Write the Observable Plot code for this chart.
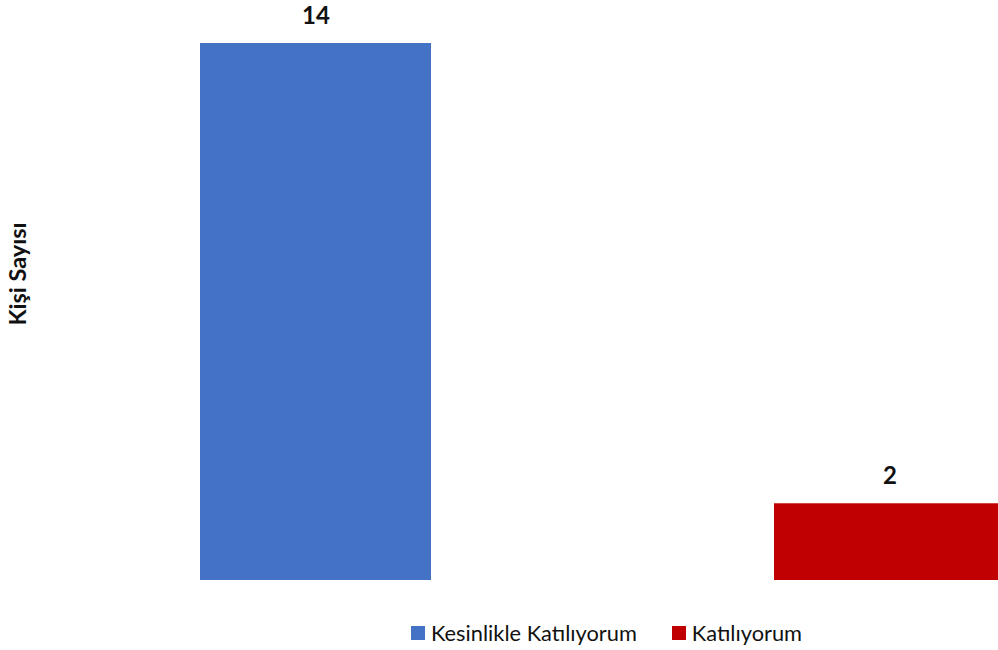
<!DOCTYPE html>
<html>
<head>
<meta charset="utf-8">
<script src="https://cdn.jsdelivr.net/npm/d3@7"></script>
<script src="https://cdn.jsdelivr.net/npm/@observablehq/plot@0.6"></script>
<style>
  html, body { margin: 0; padding: 0; background: #fff; overflow: hidden; width: 998px; height: 650px; }
  #wrap { position: relative; width: 998px; height: 650px; font-family: Lato, "Open Sans", sans-serif; }
  #chart svg { overflow: hidden; }
  #legend { position: absolute; left: 411px; top: 619px; display: flex; align-items: center; font-size: 21.8px; color: #111; }
  .item { display: flex; align-items: center; margin-right: 35px; }
  .sw { width: 14px; height: 14px; margin-right: 6px; }
</style>
</head>
<body>
<div id="wrap">
  <div id="chart"></div>
  <div id="legend"></div>
</div>
<script>
const categories = ["Kesinlikle Katılıyorum", "Katılıyorum"];
const values = [14, 2];
const colors = ["#4472C4", "#C00000"];
const yLabel = "Kişi Sayısı";

const data = categories.map((c, i) => ({category: c, value: values[i]}));

const plot = Plot.plot({
  width: 998,
  height: 600,
  marginTop: 43,
  marginBottom: 20,
  marginLeft: 0,
  marginRight: 0,
  style: {fontFamily: "Lato, 'Open Sans', sans-serif", background: "white"},
  x: {domain: categories, range: [200, 1005.5], paddingInner: 0.598, paddingOuter: 0, axis: null},
  y: {domain: [0, 14], axis: null},
  color: {domain: categories, range: colors},
  marks: [
    Plot.barY(data, {x: "category", y: "value", fill: "category"}),
    Plot.text(data, {x: "category", y: "value", text: d => String(d.value), dy: -27, lineAnchor: "middle", fontSize: 24, fontWeight: "bold", fill: "#111"}),
    Plot.text([yLabel], {frameAnchor: "left", text: d => d, rotate: -90, dx: 18, dy: -38, fontSize: 23.5, fontWeight: "bold", fill: "#111", textAnchor: "middle"})
  ]
});
document.getElementById("chart").appendChild(plot);

const legend = document.getElementById("legend");
categories.forEach((c, i) => {
  const item = document.createElement("div");
  item.className = "item";
  const sw = document.createElement("div");
  sw.className = "sw";
  sw.style.background = colors[i];
  const t = document.createElement("span");
  t.textContent = c;
  item.appendChild(sw);
  item.appendChild(t);
  legend.appendChild(item);
});
</script>
</body>
</html>
